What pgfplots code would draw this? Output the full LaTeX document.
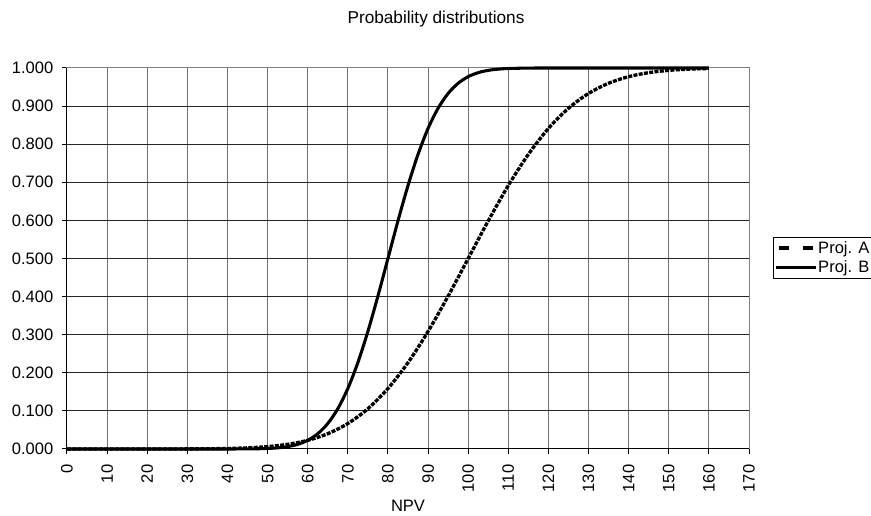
\documentclass[border=0pt]{standalone}
\usepackage{fontspec}
\setmainfont{Liberation Sans}
\usepackage{pgfplots}
\pgfplotsset{compat=1.18}

\newcommand{\chartfont}{\fontsize{12.4}{14.8}\selectfont}

\begin{document}
\begin{tikzpicture}
\begin{axis}[
    at={(0pt,0pt)}, anchor=south west,
    scale only axis,
    width=511.5pt, height=285.75pt,
    xmin=0, xmax=170, ymin=0, ymax=1,
    xtick={0,10,...,170},
    ytick={0,0.1,...,1.0},
    tick align=outside,
    xtick pos=left, ytick pos=left,
    major tick length=3.75pt,
    tick style={black, line width=0.75pt},
    grid=major,
    x grid style={black!55, line width=0.75pt},
    y grid style={black!85, line width=0.75pt},
    axis line style={black!50, line width=0.75pt},
    clip=false,
    tick label style={font=\chartfont},
    /pgf/number format/assume math mode=true,
    yticklabel style={xshift=-3pt, /pgf/number format/.cd, fixed, fixed zerofill, precision=3},
    xticklabel style={rotate=90, anchor=east, xshift=-4.5pt},
    title={Probability distributions},
    title style={font=\fontsize{12.9}{15}\selectfont, at={(axis description cs:0.5,1)}, anchor=base, xshift=21pt, yshift=27pt},
    xlabel={NPV},
    xlabel style={font=\chartfont, at={(axis description cs:0.5,0)}, anchor=base, yshift=-47pt},
    legend cell align=left,
    legend style={at={(axis description cs:1.0352,0.5564)}, anchor=north west,
        draw=black, line width=0.75pt, font=\chartfont, inner sep=0.75pt, row sep=0pt,
        nodes={inner xsep=0.5pt},
        /tikz/every odd column/.append style={column sep=0pt}},
]
\addplot[black, line width=2.5pt, dash pattern=on 3pt off 1pt, smooth,
    legend image code/.code={\draw[black, line width=2.5pt, dash pattern=on 7.5pt off 10.5pt] (2pt,0pt) -- (29pt,0pt);}]
coordinates {
 (0,0.0000003) (5,0.000001) (10,0.0000034) (15,0.0000107) (20,0.0000317)
 (25,0.0000884) (30,0.000233) (35,0.000577) (40,0.00135) (45,0.00298)
 (50,0.00621) (55,0.01222) (60,0.02275) (65,0.04006) (70,0.06681)
 (75,0.10565) (80,0.15866) (85,0.22663) (90,0.30854) (95,0.40129)
 (100,0.5) (105,0.59871) (110,0.69146) (115,0.77337) (120,0.84134)
 (125,0.89435) (130,0.93319) (135,0.95994) (140,0.97725) (145,0.98778)
 (150,0.99379) (155,0.99702) (160,0.99865)
};
\addplot[black, line width=2.3pt, smooth,
    legend image code/.code={\draw[black, line width=2.3pt] (0pt,0pt) -- (30pt,0pt);}]
coordinates {
 (0,0) (10,0) (20,0) (30,0.0000003) (35,0.0000034) (40,0.0000317)
 (42.5,0.0000884) (45,0.000233) (47.5,0.000577) (50,0.00135) (52.5,0.00298)
 (55,0.00621) (57.5,0.01222) (60,0.02275) (62.5,0.04006) (65,0.06681)
 (67.5,0.10565) (70,0.15866) (72.5,0.22663) (75,0.30854) (77.5,0.40129)
 (80,0.5) (82.5,0.59871) (85,0.69146) (87.5,0.77337) (90,0.84134)
 (92.5,0.89435) (95,0.93319) (97.5,0.95994) (100,0.97725) (102.5,0.98778)
 (105,0.99379) (107.5,0.99702) (110,0.99865) (115,0.99977) (120,0.99997)
 (130,1) (140,1) (150,1) (160,1)
};
\legend{Proj. A, Proj. B}
\draw[black, line width=0.75pt] (rel axis cs:0,1) -- (rel axis cs:0,0) -- (rel axis cs:1,0);
\end{axis}
\pgfresetboundingbox
\useasboundingbox (-50.25pt,-50.25pt) rectangle (603pt,336.75pt);
\end{tikzpicture}
\end{document}
